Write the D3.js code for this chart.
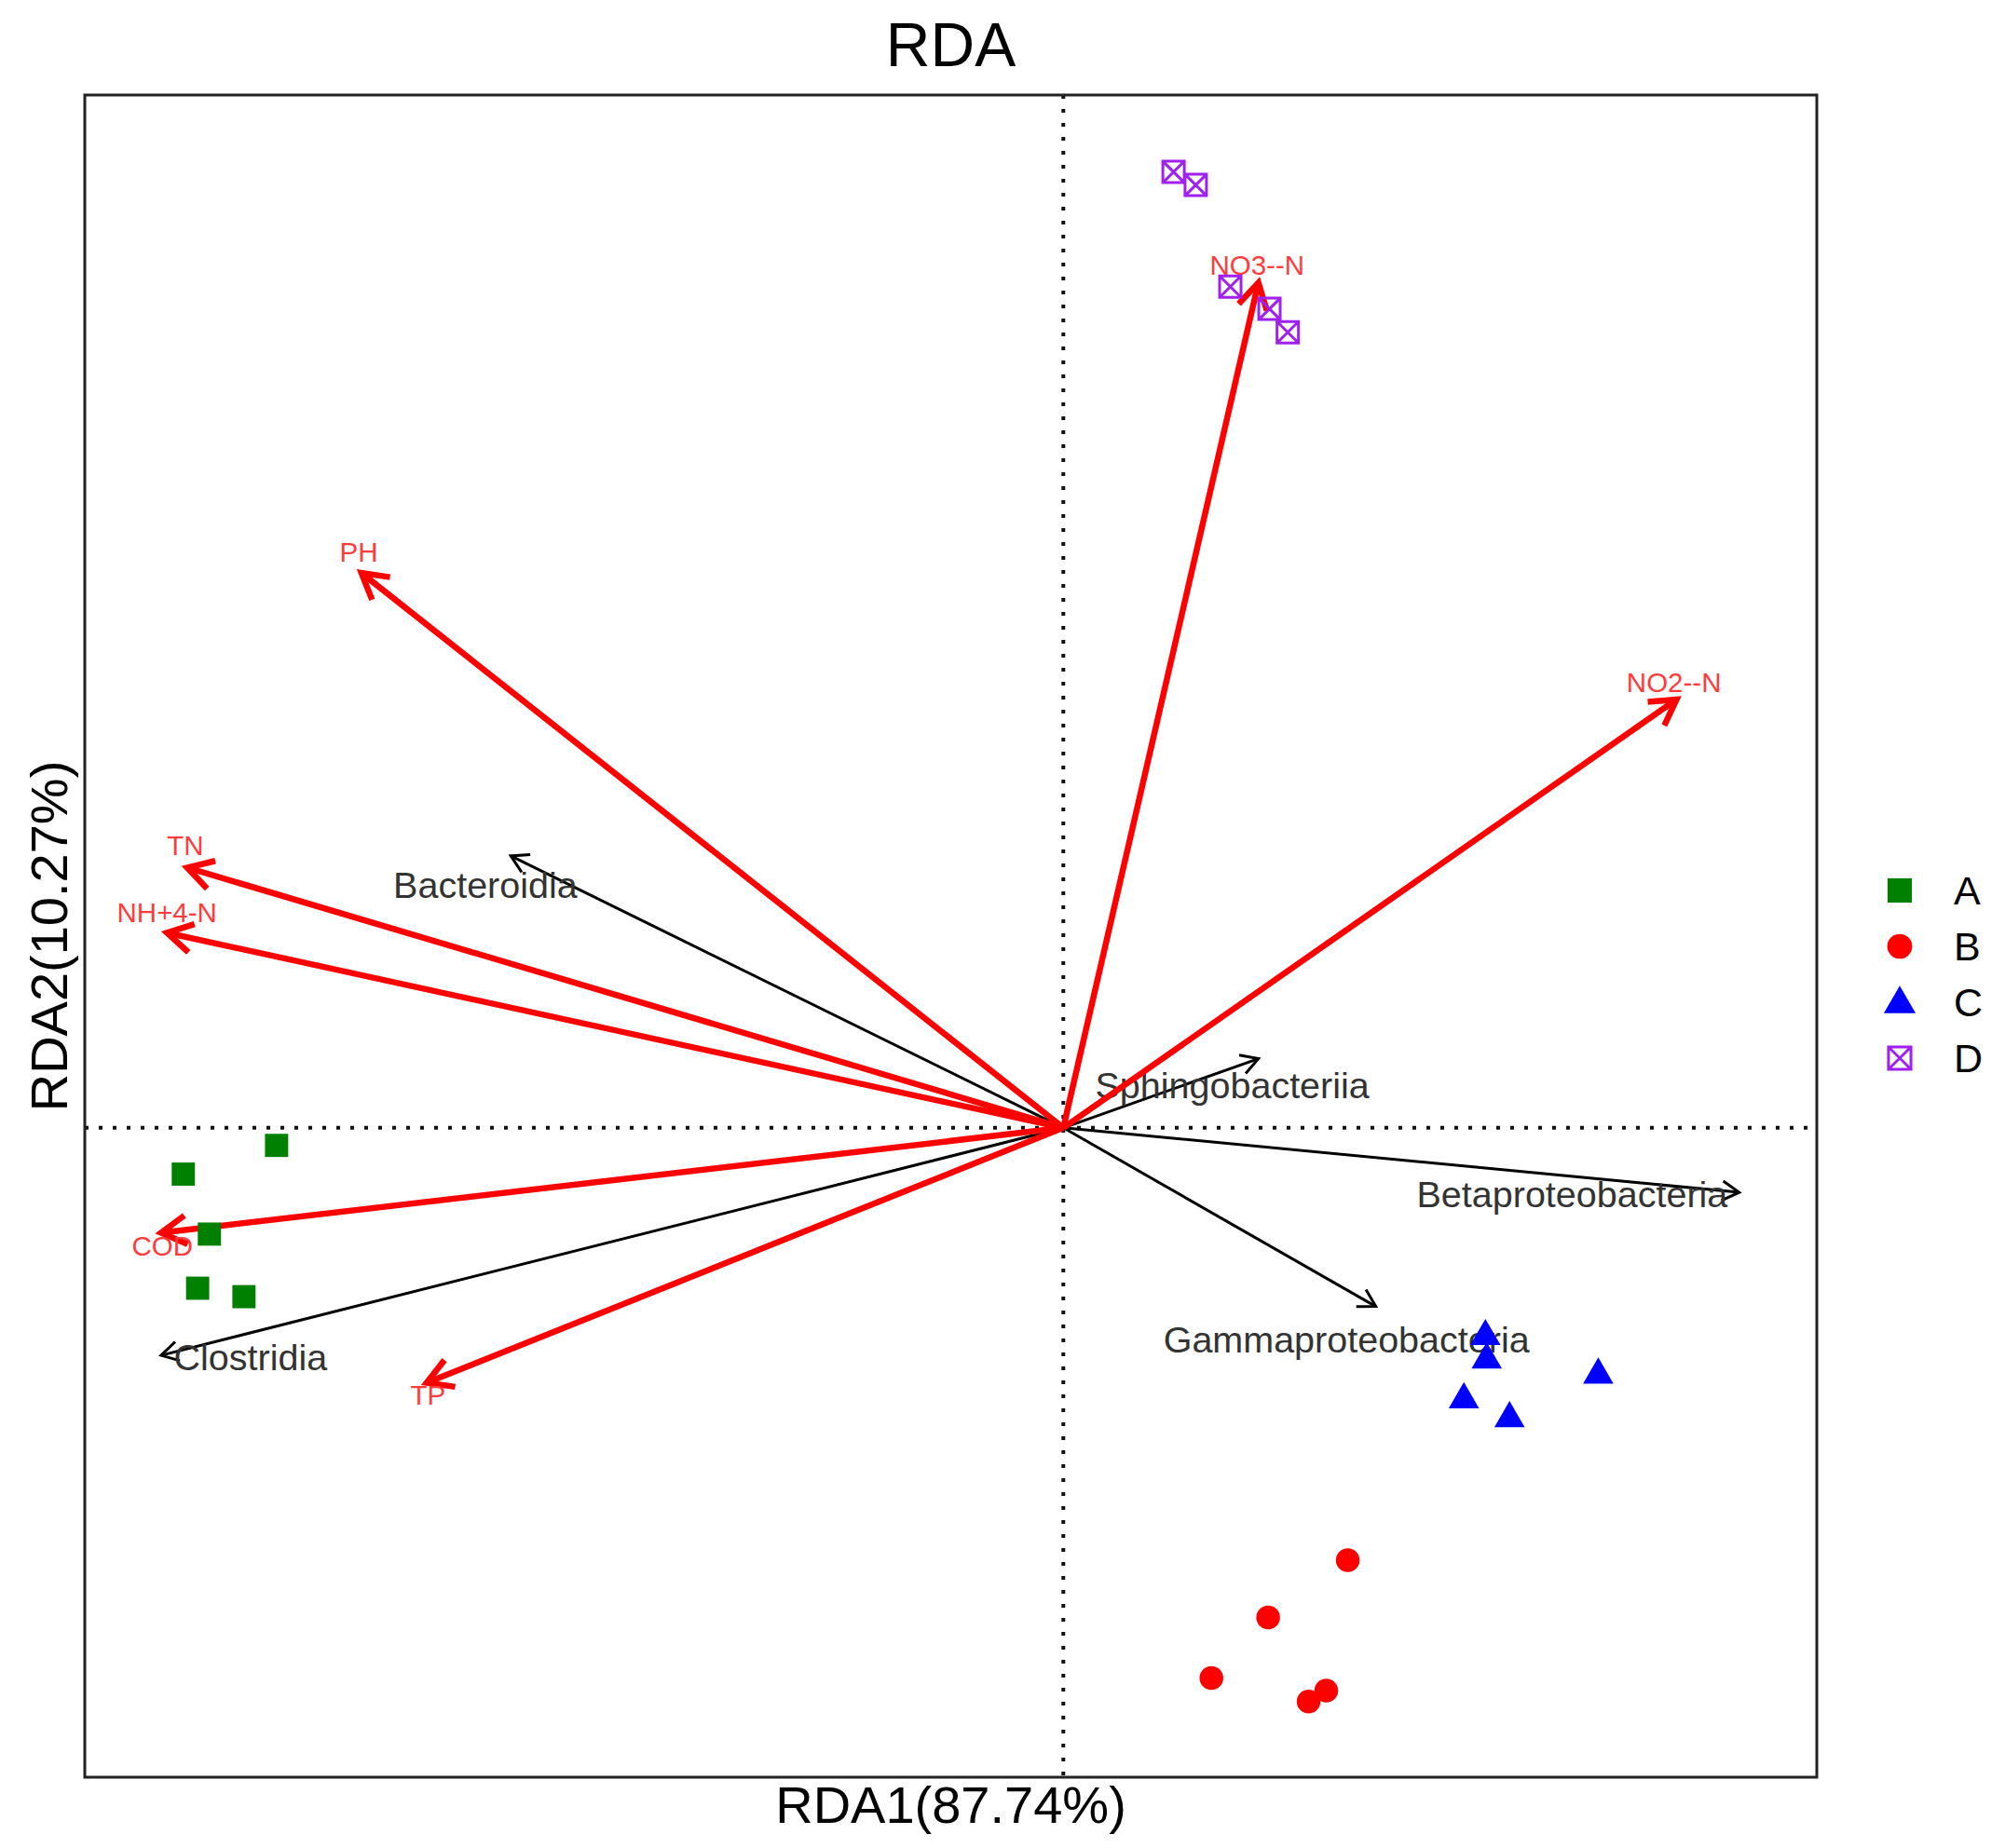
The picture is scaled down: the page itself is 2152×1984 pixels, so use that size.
<!DOCTYPE html>
<html>
<head>
<meta charset="utf-8">
<script src="https://cdn.jsdelivr.net/npm/d3@7"></script>
<style>
  body { margin: 0; background: #fff; }
  text { font-family: "Liberation Sans", Arial, sans-serif; }
</style>
</head>
<body>
<script>
// environmental factors (red arrows)
var envNames = ["NO3--N", "PH", "TN", "NH+4-N", "COD", "TP", "NO2--N"];
var envX = [0.299, -1.076, -1.343, -1.374, -1.383, -0.976, 0.940];
var envY = [1.296, 0.851, 0.399, 0.299, -0.161, -0.391, 0.657];
var envLabelX = [0.297, -1.080, -1.346, -1.374, -1.381, -0.974, 0.936];
var envLabelY = [1.323, 0.883, 0.433, 0.331, -0.181, -0.410, 0.683];

// species (black arrows)
var spNames = ["Bacteroidia", "Sphingobacteriia", "Betaproteobacteria", "Gammaproteobacteria", "Clostridia"];
var spX = [-0.847, 0.299, 1.036, 0.479, -1.383];
var spY = [0.417, 0.106, -0.099, -0.274, -0.349];
var spLabelX = [-0.886, 0.259, 0.780, 0.434, -1.246];
var spLabelY = [0.373, 0.066, -0.101, -0.324, -0.351];

// samples
var groups = ["A", "B", "C", "D"];
var sampleGroup = ["A","A","A","A","A", "B","B","B","B","B", "C","C","C","C","C", "D","D","D","D","D"];
var sampleX = [-1.206, -1.349, -1.309, -1.327, -1.256,
               0.436, 0.314, 0.227, 0.403, 0.376,
               0.647, 0.649, 0.820, 0.614, 0.684,
               0.169, 0.203, 0.256, 0.316, 0.344];
var sampleY = [-0.027, -0.071, -0.163, -0.246, -0.259,
               -0.663, -0.751, -0.844, -0.863, -0.880,
               -0.317, -0.353, -0.376, -0.414, -0.443,
               1.466, 1.446, 1.290, 1.256, 1.220];

var xDomain = [-1.5, 1.155];
var yDomain = [-0.996, 1.584];

var svgWidth = 2152, svgHeight = 1984;
var plot = { left: 91, top: 102, right: 1950, bottom: 1908 };

var colors = { A: "#008000", B: "#ff0000", C: "#0000ff", D: "#a020f0" };

var svg = d3.select("body").append("svg")
  .attr("width", svgWidth)
  .attr("height", svgHeight);

var x = d3.scaleLinear().domain(xDomain).range([plot.left, plot.right]);
var y = d3.scaleLinear().domain(yDomain).range([plot.bottom, plot.top]);

// dotted zero lines
svg.append("line")
  .attr("x1", plot.left).attr("x2", plot.right)
  .attr("y1", y(0)).attr("y2", y(0))
  .attr("stroke", "#111").attr("stroke-width", 4)
  .attr("stroke-dasharray", "4,11").attr("stroke-linecap", "butt");
svg.append("line")
  .attr("x1", x(0)).attr("x2", x(0))
  .attr("y1", plot.top).attr("y2", plot.bottom)
  .attr("stroke", "#111").attr("stroke-width", 4)
  .attr("stroke-dasharray", "4,11").attr("stroke-linecap", "butt");

function arrow(g, x1, y1, color, width, headLen) {
  var x0 = x(0), y0 = y(0), px = x(x1), py = y(y1);
  var ang = Math.atan2(py - y0, px - x0);
  var a = Math.PI / 6;
  g.append("line")
    .attr("x1", x0).attr("y1", y0).attr("x2", px).attr("y2", py)
    .attr("stroke", color).attr("stroke-width", width);
  var h = "M" + (px - headLen * Math.cos(ang - a)) + "," + (py - headLen * Math.sin(ang - a)) +
          "L" + px + "," + py +
          "L" + (px - headLen * Math.cos(ang + a)) + "," + (py - headLen * Math.sin(ang + a));
  g.append("path").attr("d", h)
    .attr("fill", "none").attr("stroke", color).attr("stroke-width", width)
    .attr("stroke-linejoin", "miter").attr("stroke-linecap", "butt");
}

// species arrows
var spG = svg.append("g");
spNames.forEach(function(n, i) {
  arrow(spG, spX[i], spY[i], "#000", 3, 21);
});
spG.selectAll("text.sp")
  .data(spNames)
  .enter().append("text")
  .attr("class", "sp")
  .attr("x", (d, i) => x(spLabelX[i]))
  .attr("y", (d, i) => y(spLabelY[i]))
  .attr("text-anchor", "middle")
  .attr("dominant-baseline", "central")
  .attr("font-size", 39.5)
  .attr("fill", "#333")
  .text(d => d);

// environment arrows
var envG = svg.append("g");
envNames.forEach(function(n, i) {
  arrow(envG, envX[i], envY[i], "#ff0000", 6.5, 31);
});
envG.selectAll("text.env")
  .data(envNames)
  .enter().append("text")
  .attr("class", "env")
  .attr("x", (d, i) => x(envLabelX[i]))
  .attr("y", (d, i) => y(envLabelY[i]))
  .attr("text-anchor", "middle")
  .attr("dominant-baseline", "central")
  .attr("font-size", 29.5)
  .attr("fill", "#ff3b3b")
  .text(d => d);

// sample symbols
function drawSymbol(g, grp, cx, cy, scale) {
  scale = scale || 1;
  if (grp === "A") {
    g.append("path").attr("d", d3.symbol().type(d3.symbolSquare).size(620 * scale)())
      .attr("transform", "translate(" + cx + "," + cy + ")").attr("fill", colors.A);
  } else if (grp === "B") {
    g.append("path").attr("d", d3.symbol().type(d3.symbolCircle).size(510 * scale)())
      .attr("transform", "translate(" + cx + "," + cy + ")").attr("fill", colors.B);
  } else if (grp === "C") {
    g.append("path").attr("d", d3.symbol().type(d3.symbolTriangle).size(460 * scale)())
      .attr("transform", "translate(" + cx + "," + (cy + 2) + ")").attr("fill", colors.C);
  } else {
    var s = 11.5 * Math.sqrt(scale);
    var p = "M" + (-s) + "," + (-s) + "H" + s + "V" + s + "H" + (-s) + "Z" +
            "M" + (-s) + "," + (-s) + "L" + s + "," + s +
            "M" + s + "," + (-s) + "L" + (-s) + "," + s;
    g.append("path").attr("d", p)
      .attr("transform", "translate(" + cx + "," + cy + ")")
      .attr("fill", "none").attr("stroke", colors.D).attr("stroke-width", 3);
  }
}

var ptG = svg.append("g");
sampleX.forEach(function(v, i) {
  drawSymbol(ptG, sampleGroup[i], x(v), y(sampleY[i]));
});

// frame
svg.append("rect")
  .attr("x", plot.left).attr("y", plot.top)
  .attr("width", plot.right - plot.left).attr("height", plot.bottom - plot.top)
  .attr("fill", "none").attr("stroke", "#222").attr("stroke-width", 3);

// title and axis labels
var cxPlot = (plot.left + plot.right) / 2;
var cyPlot = (plot.top + plot.bottom) / 2;
svg.append("text").attr("x", cxPlot).attr("y", 71)
  .attr("text-anchor", "middle").attr("font-size", 66).attr("fill", "#000").text("RDA");
svg.append("text").attr("x", cxPlot).attr("y", 1957)
  .attr("text-anchor", "middle").attr("font-size", 56).attr("fill", "#000").text("RDA1(87.74%)");
svg.append("text")
  .attr("transform", "translate(72," + cyPlot + ") rotate(-90)")
  .attr("text-anchor", "middle").attr("font-size", 56).attr("fill", "#000").text("RDA2(10.27%)");

// legend
var legG = svg.append("g");
groups.forEach(function(gname, i) {
  var ly = 956 + i * 60;
  drawSymbol(legG, gname, 2039, ly, 1.1);
  legG.append("text").attr("x", 2097).attr("y", ly)
    .attr("dominant-baseline", "central")
    .attr("font-size", 43).attr("fill", "#000").text(gname);
});
</script>
</body>
</html>
